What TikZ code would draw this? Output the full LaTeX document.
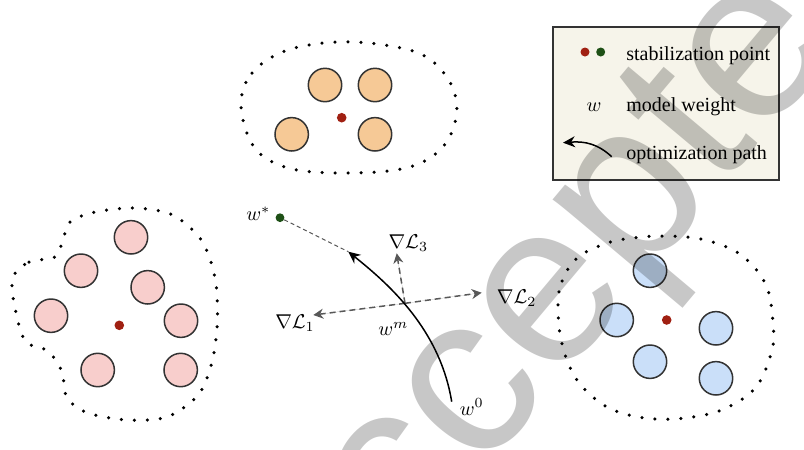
\documentclass[tikz,border=0pt]{standalone}
\usepackage[no-math]{fontspec}
\setmainfont{Liberation Serif}
\newfontfamily\markfont{Liberation Sans}
\usepackage{tikz}
\usetikzlibrary{arrows.meta}
\definecolor{pinkfill}{RGB}{248,206,204}
\definecolor{orangefill}{RGB}{246,201,150}
\definecolor{bluefill}{RGB}{202,223,249}
\definecolor{hubred}{RGB}{160,32,18}
\definecolor{stargreen}{RGB}{30,80,22}
\definecolor{legendbg}{RGB}{246,244,234}
\definecolor{edgegray}{RGB}{51,51,51}
\definecolor{gradgray}{RGB}{88,88,88}

\begin{document}
\begin{tikzpicture}[x=0.5pt, y=-0.5pt,
  client/.style={circle, draw=edgegray, line width=0.75pt,
                 minimum size=16.7pt, inner sep=0pt},
  hub/.style={circle, fill=hubred, minimum size=4.8pt, inner sep=0pt},
  starpt/.style={circle, fill=stargreen, minimum size=4.4pt, inner sep=0pt},
  boundary/.style={draw=black, line width=1.75pt, line cap=round,
                   dash pattern=on 0pt off 6.5pt},
  optarrow/.style={-{Stealth[length=6pt, width=5.5pt]}, line width=0.75pt},
  grad/.style={-{Stealth[length=5pt, width=5pt]}, draw=gradgray, fill=gradgray,
               line width=0.75pt, dash pattern=on 3pt off 2pt},
  guide/.style={draw=gradgray, line width=0.5pt, dash pattern=on 2pt off 1.5pt},
  lbl/.style={font=\fontsize{10}{12}\selectfont, inner sep=0pt},
  legtext/.style={anchor=base west, font=\fontsize{10}{12}\selectfont, inner sep=0pt},
  watermark/.style={font=\markfont\fontsize{115}{115}\selectfont, text=black,
                    text opacity=0.22, inner sep=0pt}
]
\useasboundingbox (0,0) rectangle (804,450);

% top cluster
\draw[boundary] plot[smooth cycle, tension=0.6] coordinates {
  (241,105) (252,73) (285,51) (337,42) (391,46) (428,58) (452,86)
  (456,118) (441,149) (406,168) (345,173) (288,168) (254,147)};
\node[client, fill=orangefill] (o1) at (325,85) {};
\node[client, fill=orangefill] (o2) at (375,85) {};
\node[client, fill=orangefill] (o3) at (291.7,134.3) {};
\node[client, fill=orangefill] (o4) at (375,134.3) {};
\node[hub] (ohub) at (341.7,117.7) {};

% left cluster
\draw[boundary] plot[smooth cycle, tension=0.5] coordinates {
  (13,277) (29,262) (55,257) (63,240) (70,222) (95,212) (135,208)
  (173,215) (202,241) (215,278) (217.5,318) (213,358) (199,394)
  (167,417) (127,420) (88,413) (67,398) (62,372) (48,351) (25,341)
  (14,303)};
\node[client, fill=pinkfill] (p1) at (131,237.3) {};
\node[client, fill=pinkfill] (p2) at (81,270.7) {};
\node[client, fill=pinkfill] (p3) at (147.7,287.3) {};
\node[client, fill=pinkfill] (p4) at (51,315.7) {};
\node[client, fill=pinkfill] (p5) at (181,320.7) {};
\node[client, fill=pinkfill] (p6) at (97.7,370) {};
\node[client, fill=pinkfill] (p7) at (180.7,370) {};
\node[hub] (phub) at (119.3,325.3) {};

% right cluster
\draw[boundary] plot[smooth cycle, tension=0.6] coordinates {
  (558,306) (562,281) (576,259) (599,246) (625,239) (665,236)
  (705,240) (741,255) (766,285) (773,324) (771.7,351) (756,387)
  (724,409) (685,418) (645,418) (607,407) (577,380) (562,344)};
\node[client, fill=bluefill] (b1) at (650,270.7) {};
\node[client, fill=bluefill] (b2) at (616.7,320) {};
\node[client, fill=bluefill] (b3) at (650,361.7) {};
\node[client, fill=bluefill] (b4) at (716,328.3) {};
\node[client, fill=bluefill] (b5) at (716,378.3) {};
\node[hub] (bhub) at (666.7,320) {};

% optimization
\node[starpt] (wstar) at (280,217.7) {};
\node[lbl] (wstarlbl) at (258.3,214) {$w^*$};
\coordinate (w0) at (451.7,401.7);
\coordinate (wtip) at (348.3,251.7);
\coordinate (wm) at (405,303.3);
\coordinate (g1) at (313.3,315);
\coordinate (g2) at (481.7,292.7);
\coordinate (g3) at (396.7,253.3);
\draw[guide] (wstar) -- (wtip);
\draw[grad] (wm) -- (g1);
\draw[grad] (wm) -- (g2);
\draw[grad] (wm) -- (g3);
\draw[optarrow] (w0) .. controls (440,330) and (390,285) .. (wtip);
\node[lbl] (w0lbl) at (471.7,407) {$w^0$};
\node[lbl] (wmlbl) at (393.3,329) {$w^m$};
\node[lbl] (g1lbl) at (295,323.3) {$\nabla\mathcal{L}_1$};
\node[lbl] (g2lbl) at (516.7,298.3) {$\nabla\mathcal{L}_2$};
\node[lbl] (g3lbl) at (408.3,243.3) {$\nabla\mathcal{L}_3$};

% legend
\draw[draw=edgegray, fill=legendbg, line width=0.75pt] (553,27) rectangle (779,180);
\node[hub, minimum size=4.5pt] (lred) at (585,52) {};
\node[starpt, minimum size=4.5pt] (lgreen) at (600.7,52) {};
\node[legtext] (ltext1) at (626,60.7) {stabilization point};
\node[lbl, anchor=base] (lw) at (594,111) {$w$};
\node[legtext] (ltext2) at (626,111) {model weight};
\coordinate (lstart) at (611.7,156.7);
\coordinate (lend) at (563,142.7);
\draw[optarrow] (lstart) .. controls (598,144) and (585,141) .. (lend);
\node[legtext] (ltext3) at (626,159.3) {optimization path};

% watermark
\node[watermark, rotate=50, anchor=base west] (mark) at (324.3,661.9) {accepted};
\end{tikzpicture}
\end{document}
